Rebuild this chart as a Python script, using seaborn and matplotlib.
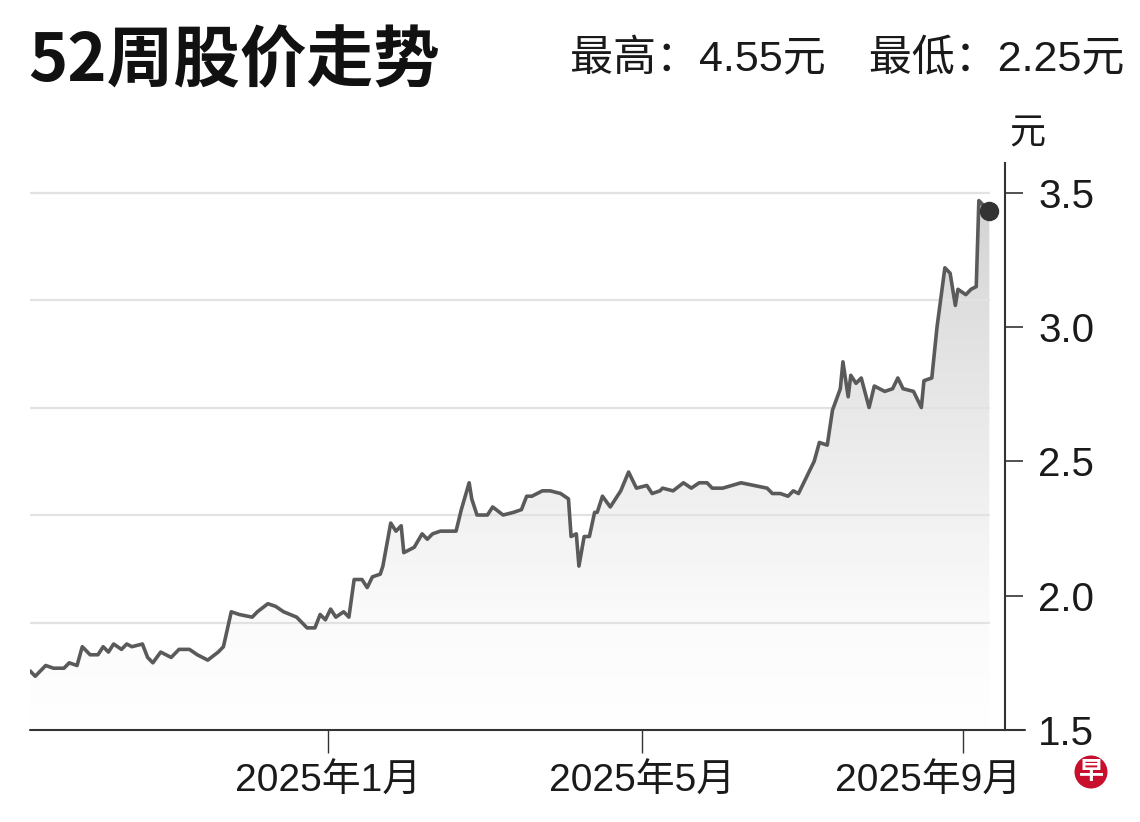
import numpy as np
import pandas as pd
import seaborn as sns
import matplotlib.pyplot as plt
import matplotlib.transforms as mtransforms
from matplotlib import font_manager
from matplotlib.colors import LinearSegmentedColormap

# price readings (yuan), 52 weeks
dates = ['2024-09-09', '2024-09-11', '2024-09-15', '2024-09-18', '2024-09-22', '2024-09-24',
         '2024-09-27', '2024-09-29', '2024-10-02', '2024-10-05', '2024-10-07', '2024-10-09',
         '2024-10-11', '2024-10-14', '2024-10-16', '2024-10-18', '2024-10-22', '2024-10-24',
         '2024-10-26', '2024-10-29', '2024-11-02', '2024-11-05', '2024-11-09', '2024-11-12',
         '2024-11-16', '2024-11-20', '2024-11-22', '2024-11-25', '2024-11-28', '2024-12-03',
         '2024-12-05', '2024-12-09', '2024-12-12', '2024-12-15', '2024-12-20', '2024-12-24',
         '2024-12-27', '2024-12-29', '2024-12-31', '2025-01-02', '2025-01-04', '2025-01-07',
         '2025-01-09', '2025-01-11', '2025-01-14', '2025-01-16', '2025-01-18', '2025-01-21',
         '2025-01-22', '2025-01-25', '2025-01-27', '2025-01-29', '2025-01-30', '2025-02-03',
         '2025-02-06', '2025-02-08', '2025-02-10', '2025-02-13', '2025-02-19', '2025-02-21',
         '2025-02-24', '2025-02-25', '2025-02-27', '2025-03-03', '2025-03-05', '2025-03-09',
         '2025-03-13', '2025-03-16', '2025-03-18', '2025-03-20', '2025-03-24', '2025-03-27',
         '2025-03-31', '2025-04-03', '2025-04-04', '2025-04-06', '2025-04-07', '2025-04-09',
         '2025-04-11', '2025-04-13', '2025-04-14', '2025-04-16', '2025-04-19', '2025-04-23',
         '2025-04-26', '2025-04-29', '2025-05-03', '2025-05-05', '2025-05-08', '2025-05-09',
         '2025-05-13', '2025-05-17', '2025-05-20', '2025-05-23', '2025-05-26', '2025-05-28',
         '2025-06-01', '2025-06-08', '2025-06-13', '2025-06-18', '2025-06-20', '2025-06-23',
         '2025-06-26', '2025-06-28', '2025-06-30', '2025-07-03', '2025-07-06', '2025-07-08',
         '2025-07-11', '2025-07-13', '2025-07-16', '2025-07-17', '2025-07-19', '2025-07-20',
         '2025-07-22', '2025-07-24', '2025-07-27', '2025-07-29', '2025-08-02', '2025-08-05',
         '2025-08-07', '2025-08-09', '2025-08-13', '2025-08-16', '2025-08-17', '2025-08-20',
         '2025-08-22', '2025-08-25', '2025-08-27', '2025-08-29', '2025-08-30', '2025-09-02',
         '2025-09-04', '2025-09-06', '2025-09-07', '2025-09-11']
prices = [1.72, 1.70, 1.74, 1.73, 1.73, 1.75,
          1.74, 1.81, 1.78, 1.78, 1.81, 1.79,
          1.82, 1.80, 1.82, 1.81, 1.82, 1.77,
          1.75, 1.79, 1.77, 1.80, 1.80, 1.78,
          1.76, 1.79, 1.81, 1.94, 1.93, 1.92,
          1.94, 1.97, 1.96, 1.94, 1.92, 1.88,
          1.88, 1.93, 1.91, 1.95, 1.92, 1.94,
          1.92, 2.06, 2.06, 2.03, 2.07, 2.08,
          2.11, 2.27, 2.24, 2.26, 2.16, 2.18,
          2.23, 2.21, 2.23, 2.24, 2.24, 2.32,
          2.42, 2.36, 2.30, 2.30, 2.33, 2.30,
          2.31, 2.32, 2.37, 2.37, 2.39, 2.39,
          2.38, 2.36, 2.22, 2.23, 2.11, 2.22,
          2.22, 2.31, 2.31, 2.37, 2.33, 2.39,
          2.46, 2.40, 2.41, 2.38, 2.39, 2.40,
          2.39, 2.42, 2.40, 2.42, 2.42, 2.40,
          2.40, 2.42, 2.41, 2.40, 2.38, 2.38,
          2.37, 2.39, 2.38, 2.44, 2.50, 2.57,
          2.56, 2.69, 2.77, 2.87, 2.74, 2.82,
          2.79, 2.81, 2.70, 2.78, 2.76, 2.77,
          2.81, 2.77, 2.76, 2.70, 2.80, 2.81,
          3.00, 3.22, 3.20, 3.08, 3.14, 3.12,
          3.14, 3.15, 3.47, 3.43]

x_ticks = ['2025-01-01', '2025-05-01', '2025-09-01']
x_labels = ['2025年1月', '2025年5月', '2025年9月']
y_ticks = [1.5, 2.0, 2.5, 3.0, 3.5]
grid_levels = [1.9, 2.3, 2.7, 3.1, 3.5]
x_range = ['2024-09-09', '2025-09-17']
y_range = [1.5, 3.61]

title = '52周股价走势'
subtitle = '最高：4.55元　最低：2.25元'
unit = '元'

df = pd.DataFrame({'date': pd.to_datetime(dates), 'price': prices})

names = {f.name for f in font_manager.fontManager.ttflist}
narrow = 'Liberation Sans Narrow' if 'Liberation Sans Narrow' in names else 'Liberation Sans'
cjk = 'Noto Sans CJK SC'

sns.set_theme(style='white')
plt.rcParams['font.family'] = [narrow, cjk, 'DejaVu Sans']
plt.rcParams['axes.unicode_minus'] = False

W, H = 1140, 822
fig = plt.figure(figsize=(W / 100, H / 100), dpi=100)
ax = fig.add_axes([30 / W, 1 - 730 / H, 975 / W, 567 / H])

# gradient fill under the line
poly = ax.fill_between(df['date'], df['price'], y_range[0], color='none', lw=0)
cmap = LinearSegmentedColormap.from_list(
    'fade', [(0.0, '#ffffff'), (0.19, '#fbfbfb'), (0.47, '#ededed'),
             (0.71, '#e1e1e1'), (1.0, '#cfcfcf')])
grad = np.linspace(0, 1, 256).reshape(-1, 1)
x0 = plt.matplotlib.dates.date2num(df['date'].iloc[0])
x1 = plt.matplotlib.dates.date2num(df['date'].iloc[-1])
img = ax.imshow(grad, extent=[x0, x1, y_range[0], y_range[1]], origin='lower',
                aspect='auto', cmap=cmap, zorder=1)
img.set_clip_path(poly.get_paths()[0], transform=ax.transData)

for g in grid_levels:
    ax.plot([df['date'].iloc[0], df['date'].iloc[-1]], [g, g],
            color='#e2e2e2', lw=1.6, zorder=2)

sns.lineplot(data=df, x='date', y='price', ax=ax, color='#5a5a5a', lw=2.6, zorder=3)
ax.plot(df['date'].iloc[-1:], df['price'].iloc[-1:], 'o', ms=13,
        color='#333333', zorder=4, clip_on=False)

ax.set_xlim(pd.to_datetime(x_range[0]), pd.to_datetime(x_range[1]))
ax.set_ylim(*y_range)
ax.set_xlabel('')
ax.set_ylabel('')

ax.yaxis.tick_right()
ax.set_yticks(y_ticks)
ax.set_yticklabels([f'{v:.1f}' for v in y_ticks])
ax.set_xticks(pd.to_datetime(x_ticks))
ax.set_xticklabels(x_labels)
ax.tick_params(axis='y', which='both', direction='out', length=13, width=1.2,
               pad=11, labelsize=29, color='#333333', labelcolor='#1a1a1a',
               left=False, right=True)
ax.tick_params(axis='x', direction='out', length=16.5, width=1.0, pad=8,
               labelsize=28, color='#333333', labelcolor='#1a1a1a', bottom=True)

# last month label sits left of its tick, as in the print layout
shift = mtransforms.ScaledTranslation(-0.35, 0, fig.dpi_scale_trans)
last_lab = ax.get_xticklabels()[-1]
last_lab.set_transform(last_lab.get_transform() + shift)

for side in ['top', 'left', 'bottom']:
    ax.spines[side].set_visible(False)
ax.spines['right'].set_visible(True)
ax.spines['right'].set_color('#333333')
ax.spines['right'].set_linewidth(1.5)
ax.plot([0, 1.0205], [0, 0], transform=ax.transAxes, clip_on=False,
        color='#333333', lw=1.5, zorder=5)

fig.text(28 / W, 1 - 62 / H, title, fontsize=48, fontweight='bold',
         family=[cjk], ha='left', va='center', color='#111111')
fig.text(1124 / W, 1 - 60 / H, subtitle, fontsize=31, family=[narrow, cjk],
         ha='right', va='center', color='#1a1a1a')
fig.text(1027 / W, 1 - 133 / H, unit, fontsize=26, family=[cjk],
         ha='center', va='center', color='#1a1a1a')
fig.text(1091 / W, 1 - 772 / H, '早', fontsize=18, fontweight='bold', family=[cjk],
         ha='center', va='center', color='white',
         bbox=dict(boxstyle='circle,pad=0.16', fc='#c8102e', ec='none'))

fig.savefig('out.png', dpi=100)
